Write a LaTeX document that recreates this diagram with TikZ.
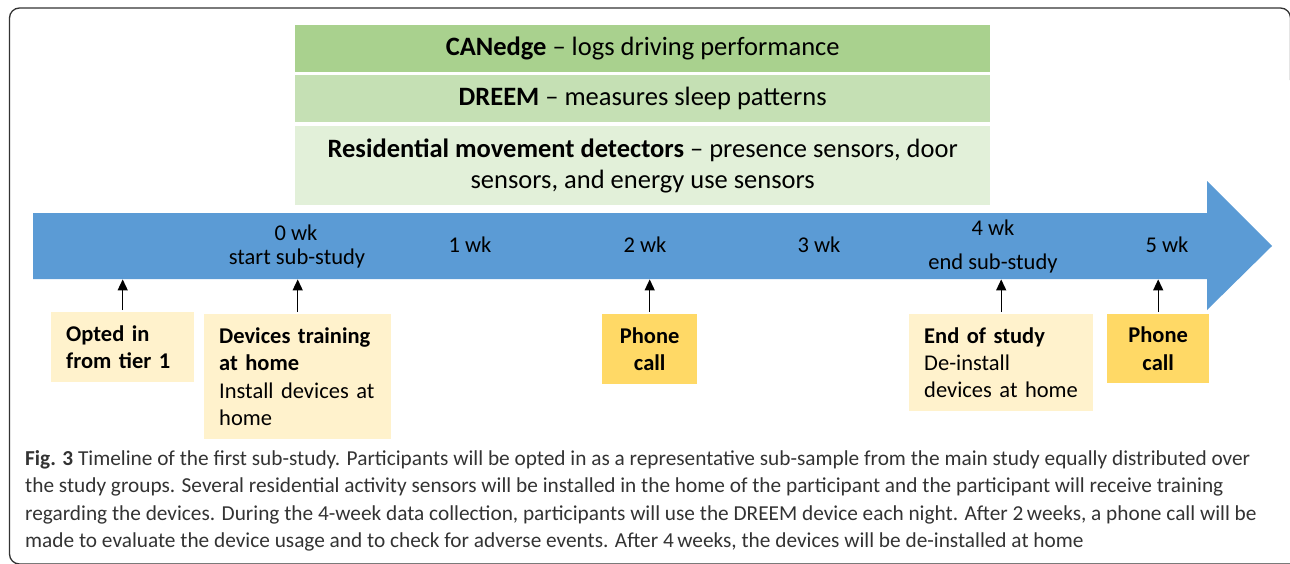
\documentclass[tikz,border=0pt]{standalone}
\usepackage{fontspec}
\setmainfont{Carlito}
\newfontfamily\capfont{Carlito}
\usetikzlibrary{arrows.meta}
\definecolor{gA}{HTML}{A9D18E}
\definecolor{gB}{HTML}{C5E0B4}
\definecolor{gC}{HTML}{E2F0D9}
\definecolor{tlblue}{HTML}{5B9BD5}
\definecolor{lyel}{HTML}{FFF2CC}
\definecolor{gold}{HTML}{FFD966}
\definecolor{capgray}{HTML}{333333}
\begin{document}
\begin{tikzpicture}[x=1pt,y=-1pt,
  every node/.style={font=\fontsize{22.5}{27.4}\selectfont, inner sep=0pt},
  greenbox/.style={anchor=north west, minimum width=695pt, align=center, font=\fontsize{26.5}{31}\selectfont},
  evbox/.style={anchor=north west, align=left, inner xsep=15pt, inner ysep=0pt},
  callbox/.style={anchor=north west, align=center, fill=gold, font=\fontsize{22.5}{27.4}\selectfont\bfseries},
  tick/.style={line width=1.4pt, -{Triangle[length=11pt,width=10pt]}},
  capline/.style={anchor=base west, text=capgray, font=\capfont\fontsize{21.3}{27}\selectfont}
]
\useasboundingbox (0,0) rectangle (1290,563);
% frame
\draw[line width=1.3pt, color=capgray, rounded corners=10pt]
  (1300,564) -- (9.5,564) -- (9.5,8) -- (1290.5,8) -- (1290.5,80);
% green boxes
\node[greenbox, fill=gA, minimum height=47pt] (can) at (295,25)
  {\textbf{CANedge} -- logs driving performance};
\node[greenbox, fill=gB, minimum height=47pt] (dreem) at (295,75)
  {\textbf{DREEM} -- measures sleep patterns};
\node[greenbox, fill=gC, minimum height=79pt] (res) at (295,126)
  {\textbf{Residential movement detectors} -- presence sensors, door\\sensors, and energy use sensors};
% timeline arrow
\fill[tlblue] (33,213) -- (1207,213) -- (1207,181) -- (1272,246) -- (1207,310) -- (1207,279) -- (33,279) -- cycle;
\node[anchor=north west, minimum width=1174pt, minimum height=66pt] (bar) at (33,213) {};
% week labels
\node (w0) at (296,233) {0 wk};
\node (s0) at (297,258) {start sub-study};
\node (w1) at (470,245) {1 wk};
\node (w2) at (645,245) {2 wk};
\node (w3) at (819,245) {3 wk};
\node (w4) at (993,228) {4 wk};
\node (s4) at (993,263) {end sub-study};
\node (w5) at (1167,245) {5 wk};
% event boxes
\node[evbox, fill=lyel, minimum width=143pt, minimum height=70pt, text width=113pt] (opt) at (51,312)
  {\textbf{Opted in}\\\textbf{from tier 1}};
\node[evbox, fill=lyel, minimum width=187pt, minimum height=125pt, text width=157pt] (dev) at (204,314)
  {\textbf{Devices training}\\\textbf{at home}\\Install devices at\\home};
\node[callbox, minimum width=95pt, minimum height=70pt] (ph1) at (602,314) {Phone\\call};
\node[evbox, fill=lyel, minimum width=184pt, minimum height=97pt, text width=154pt] (end) at (909,314)
  {\textbf{End of study}\\De-install\\devices at home};
\node[callbox, minimum width=102pt, minimum height=69pt] (ph2) at (1107,314) {Phone\\call};
% connectors
\draw[tick] ([yshift=2pt]opt.north) -- (opt.north |- bar.south);
\draw[tick] ([yshift=2pt]dev.north) -- (dev.north |- bar.south);
\draw[tick] ([yshift=2pt]ph1.north) -- (ph1.north |- bar.south);
\draw[tick] ([yshift=2pt]end.north) -- (end.north |- bar.south);
\draw[tick] ([yshift=2pt]ph2.north) -- (ph2.north |- bar.south);
% caption
\node[capline] (c1) at (25,465) {\textbf{Fig. 3} Timeline of the first sub-study. Participants will be opted in as a representative sub-sample from the main study equally distributed over};
\node[capline] (c2) at (25,492.5) {the study groups. Several residential activity sensors will be installed in the home of the participant and the participant will receive training};
\node[capline] (c3) at (25,520) {regarding the devices. During the 4-week data collection, participants will use the DREEM device each night. After 2\,weeks, a phone call will be};
\node[capline] (c4) at (25,547) {made to evaluate the device usage and to check for adverse events. After 4\,weeks, the devices will be de-installed at home};
\end{tikzpicture}
\end{document}
